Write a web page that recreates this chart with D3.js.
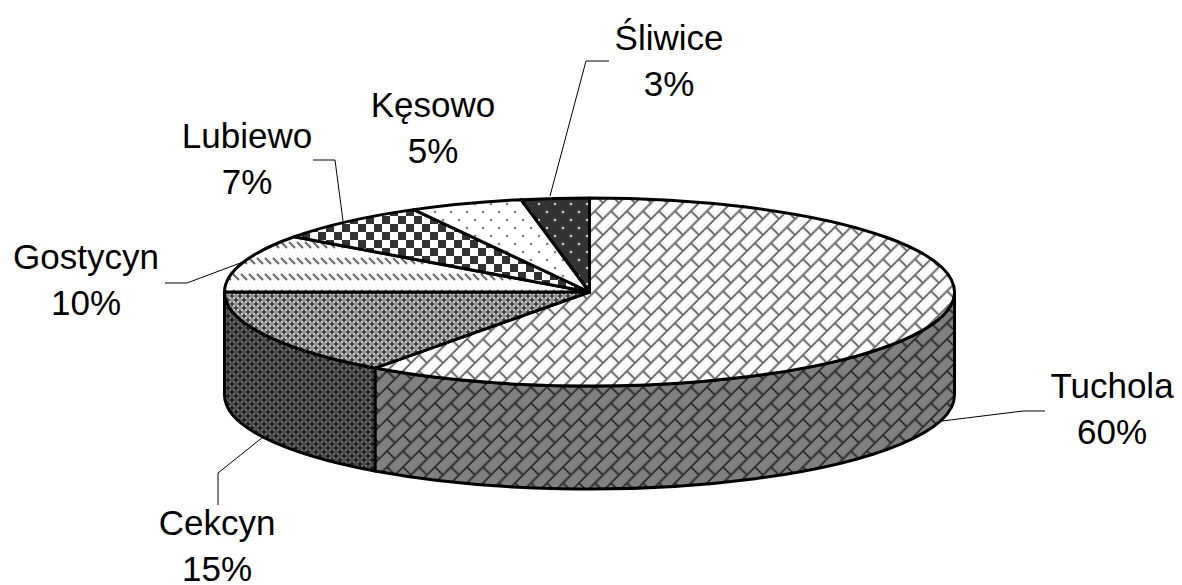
<!DOCTYPE html>
<html>
<head>
<meta charset="utf-8">
<script src="https://cdn.jsdelivr.net/npm/d3@7"></script>
<style>
  html, body { margin: 0; padding: 0; background: #fff; }
  svg { display: block; }
  text { font-family: "Liberation Sans", Arial, sans-serif; font-size: 35px; fill: #000; text-anchor: middle; }
</style>
</head>
<body>
<div id="chart"></div>
<script>
// Share of each town, clockwise from 12 o'clock
const towns = ['Tuchola', 'Cekcyn', 'Gostycyn', 'Lubiewo', 'Kęsowo', 'Śliwice'];
const shares = [60, 15, 10, 7, 5, 3];

// Label placement, same order as towns: centre x, first baseline, leader polyline
const labelX = [1112, 217, 86, 247, 433, 669];
const labelY = [398, 535, 269, 148, 117, 50];
const leaders = [
    [[1045, 411], [1023, 411], [942, 421]],
    [[218, 505], [218, 473], [263, 437]],
    [[165, 283], [187, 283], [243, 262]],
    [[313, 160], [335, 160], [343, 221]],
    null,
    [[609, 61], [586, 61], [550, 196]]
];

const width = 1182, height = 585;
const cx = 589.5, cy = 292, rx = 365, ry = 94, depth = 103;

const svg = d3.select('#chart').append('svg')
    .attr('width', width)
    .attr('height', height);
const defs = svg.append('defs');

// Brick hatch, laid out along the up-right diagonal
function brickPattern(id, bg, line) {
    const s = 16 * Math.SQRT2;
    const p = defs.append('pattern')
        .attr('id', id)
        .attr('patternUnits', 'userSpaceOnUse')
        .attr('width', s)
        .attr('height', s)
        .attr('patternTransform', 'translate(3 3) rotate(-45)');
    p.append('rect').attr('width', s).attr('height', s).attr('fill', bg);
    // edge lines are doubled so they are not clipped to half width by the tile
    const segs = [
        [0, 0, s, 0], [0, s, s, s], [0, s / 2, s, s / 2],
        [0, 0, 0, s / 2], [s, 0, s, s / 2], [s / 2, s / 2, s / 2, s]
    ];
    segs.forEach(d => {
        p.append('line')
            .attr('x1', d[0]).attr('y1', d[1]).attr('x2', d[2]).attr('y2', d[3])
            .attr('stroke', line).attr('stroke-width', 2);
    });
}

// Small woven diamonds used on Cekcyn
function weavePattern(id, bg, dark, light) {
    const p = defs.append('pattern')
        .attr('id', id)
        .attr('patternUnits', 'userSpaceOnUse')
        .attr('width', 8)
        .attr('height', 8);
    p.append('rect').attr('width', 8).attr('height', 8).attr('fill', bg);
    p.append('path').attr('d', 'M0 0L8 8M8 0L0 8').attr('stroke', light).attr('stroke-width', 1.3);
    p.append('path').attr('d', 'M4 1.6L6.4 4L4 6.4L1.6 4ZM0 -2.4L2.4 0L0 2.4L-2.4 0ZM8 -2.4L10.4 0L8 2.4L5.6 0ZM0 5.6L2.4 8L0 10.4L-2.4 8ZM8 5.6L10.4 8L8 10.4L5.6 8Z').attr('fill', dark);
}

function dotPattern(id, bg, dot) {
    const p = defs.append('pattern')
        .attr('id', id)
        .attr('patternUnits', 'userSpaceOnUse')
        .attr('width', 16)
        .attr('height', 16);
    p.append('rect').attr('width', 16).attr('height', 16).attr('fill', bg);
    [[3, 4], [11, 12]].forEach(d => {
        p.append('circle').attr('cx', d[0]).attr('cy', d[1]).attr('r', 1.3).attr('fill', dot);
    });
}

brickPattern('brick-top', '#fff', '#6a6a6a');
brickPattern('brick-side', '#808080', '#303030');
weavePattern('weave-top', '#999', '#404040', '#e4e4e4');
weavePattern('weave-side', '#505050', '#1e1e1e', '#787878');
dotPattern('dots-light', '#fff', '#808080');
dotPattern('dots-dark', '#333', '#ccc');

// Gostycyn: rows of short slanted dashes
const dash = defs.append('pattern')
    .attr('id', 'dashes')
    .attr('patternUnits', 'userSpaceOnUse')
    .attr('width', 8)
    .attr('height', 16);
dash.append('rect').attr('width', 8).attr('height', 16).attr('fill', '#fff');
dash.append('line')
    .attr('x1', 1).attr('y1', 2).attr('x2', 7).attr('y2', 8)
    .attr('stroke', '#666').attr('stroke-width', 2);

// Lubiewo: checker
const check = defs.append('pattern')
    .attr('id', 'checker')
    .attr('patternUnits', 'userSpaceOnUse')
    .attr('width', 16)
    .attr('height', 16);
check.append('rect').attr('width', 16).attr('height', 16).attr('fill', '#fff');
check.append('rect').attr('x', 6).attr('y', 0).attr('width', 8).attr('height', 8).attr('fill', '#333');
check.append('rect').attr('x', -2).attr('y', 8).attr('width', 8).attr('height', 8).attr('fill', '#333');
check.append('rect').attr('x', 14).attr('y', 8).attr('width', 8).attr('height', 8).attr('fill', '#333');

const topFills = ['brick-top', 'weave-top', 'dashes', 'checker', 'dots-light', 'dots-dark'];
const sideFills = ['brick-side', 'weave-side'];

const pie = d3.pie().sort(null).value(d => d);
const slices = pie(shares);

const px = a => cx + rx * Math.sin(a);
const py = a => cy - ry * Math.cos(a);

function topPath(d) {
    const large = d.endAngle - d.startAngle > Math.PI ? 1 : 0;
    return `M${cx},${cy}L${px(d.startAngle)},${py(d.startAngle)}` +
        `A${rx},${ry} 0 ${large} 1 ${px(d.endAngle)},${py(d.endAngle)}Z`;
}

// Wall is only visible on the front half of the ellipse
function sidePath(d) {
    const a0 = Math.max(d.startAngle, Math.PI / 2);
    const a1 = Math.min(d.endAngle, Math.PI * 1.5);
    return `M${px(a0)},${py(a0)}A${rx},${ry} 0 0 1 ${px(a1)},${py(a1)}` +
        `L${px(a1)},${py(a1) + depth}A${rx},${ry} 0 0 0 ${px(a0)},${py(a0) + depth}Z`;
}

const line = d3.line();

svg.append('g')
    .selectAll('path')
    .data(leaders.filter(d => d))
    .enter()
    .append('path')
    .attr('d', line)
    .attr('fill', 'none')
    .attr('stroke', '#000')
    .attr('stroke-width', 1);

svg.append('g')
    .selectAll('path')
    .data(slices.filter(d => d.endAngle > Math.PI / 2 && d.startAngle < Math.PI * 1.5))
    .enter()
    .append('path')
    .attr('d', sidePath)
    .attr('fill', d => `url(#${sideFills[d.index]})`)
    .attr('stroke', '#000')
    .attr('stroke-width', 3)
    .attr('stroke-linejoin', 'round');

svg.append('g')
    .selectAll('path')
    .data(slices)
    .enter()
    .append('path')
    .attr('d', topPath)
    .attr('fill', d => `url(#${topFills[d.index]})`)
    .attr('stroke', '#000')
    .attr('stroke-width', 3)
    .attr('stroke-linejoin', 'round');

const labels = svg.append('g')
    .selectAll('text')
    .data(towns)
    .enter()
    .append('text');

labels.append('tspan')
    .attr('x', (d, i) => labelX[i])
    .attr('y', (d, i) => labelY[i])
    .text(d => d);

labels.append('tspan')
    .attr('x', (d, i) => labelX[i])
    .attr('y', (d, i) => labelY[i] + 46)
    .text((d, i) => `${shares[i]}%`);
</script>
</body>
</html>
